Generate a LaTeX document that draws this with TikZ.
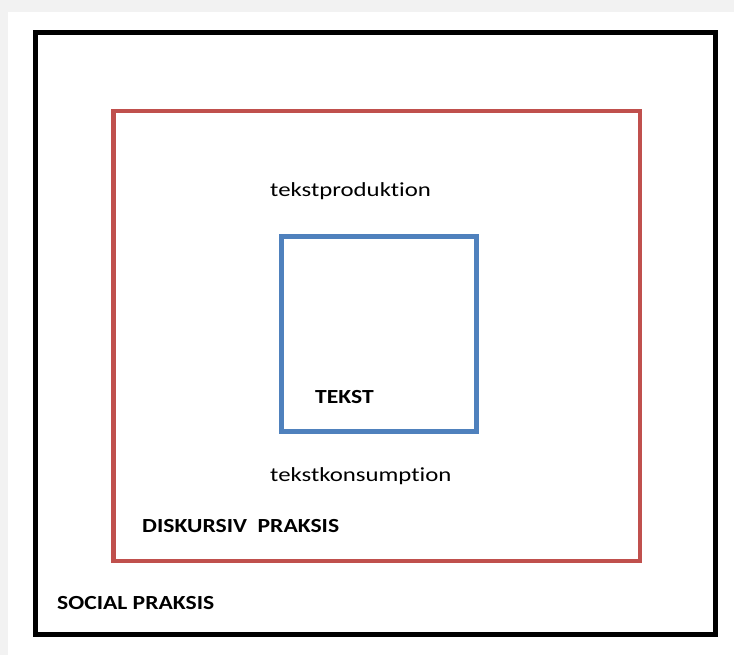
\documentclass[tikz,border=0pt]{standalone}
\usepackage{fontspec}
\setmainfont{Carlito}[FakeStretch=1.24,BoldFeatures={FakeStretch=1.18},Ligatures={NoCommon}]
\usetikzlibrary{positioning}
\definecolor{socialblack}{HTML}{000000}
\definecolor{diskursred}{HTML}{C0504D}
\definecolor{tekstblue}{HTML}{4F81BD}
\definecolor{shadowgray}{HTML}{F2F2F2}

\begin{document}
\begin{tikzpicture}[x=1pt,y=-1pt,
	frame/.style={draw,line width=4.5pt,minimum size=0pt,inner sep=0pt},
	label/.style={font=\fontsize{20}{24}\selectfont,anchor=base west,inner sep=0pt},
	caps/.style={label,font=\fontsize{20}{24}\selectfont\bfseries}]
	\useasboundingbox (0,0) rectangle (734,655);
	\fill[shadowgray] (0,0) rectangle (734,655);
	\fill[white] (8,12) rectangle (734,655);

	% the three frames
	\draw[frame,socialblack,line width=5pt] (35.5,32.5) rectangle (715,634);
	\draw[frame,diskursred] (113.5,111) rectangle (640,561);
	\draw[frame,tekstblue] (281.5,236.5) rectangle (476.5,431.5);

	% labels
	\node[label] (prod) at (270,197) {tekstproduktion};
	\node[caps] (tekst) at (315,403) {TEKST};
	\node[label] (kons) at (270,481) {tekstkonsumption};
	\node[caps] (diskurs) at (142,532) {DISKURSIV~ PRAKSIS};
	\node[caps] (social) at (57,609) {SOCIAL PRAKSIS};
\end{tikzpicture}
\end{document}
